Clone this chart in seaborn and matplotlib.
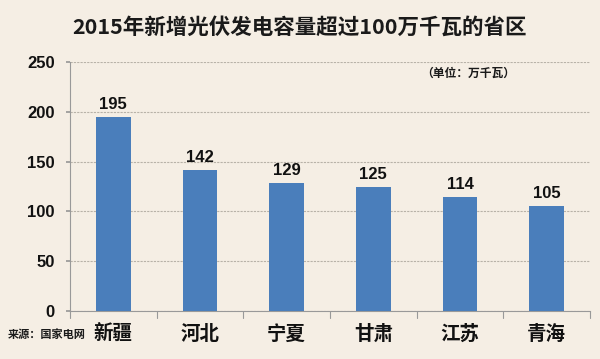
import pandas as pd
import seaborn as sns
import matplotlib.pyplot as plt

# Data
provinces = ["新疆", "河北", "宁夏", "甘肃", "江苏", "青海"]
capacity = [195, 142, 129, 125, 114, 105]
y_ticks = [0, 50, 100, 150, 200, 250]

title = "2015年新增光伏发电容量超过100万千瓦的省区"
unit_note = "（单位：万千瓦）"
source_note = "来源：国家电网"

BG = "#f5eee4"
BAR = "#4a7ebb"
CJK = ["Noto Sans CJK SC", "DejaVu Sans"]
NUM = ["Liberation Sans", "DejaVu Sans"]

sns.set_theme(style="white")
plt.rcParams["font.family"] = CJK

df = pd.DataFrame({"province": provinces, "capacity": capacity})

fig = plt.figure(figsize=(6, 3.59), dpi=100, facecolor=BG)
ax = fig.add_axes([0.1167, 0.1337, 0.8666, 0.6936])
ax.set_facecolor(BG)

sns.barplot(data=df, x="province", y="capacity", color=BAR, width=0.4,
            saturation=1, edgecolor="none", ax=ax, zorder=3)

ax.set_ylim(0, 250)
ax.set_xlim(-0.5, len(provinces) - 0.5)
ax.set_yticks(y_ticks)
ax.set_yticklabels([str(t) for t in y_ticks], fontsize=12, fontweight="bold",
                   family=NUM, color="#111111")
ax.yaxis.grid(True, color="#b8b2a8", lw=0.8, linestyle=(0, (2, 1)), zorder=0)
ax.set_xlabel("")
ax.set_ylabel("")

# category labels and boundary ticks
ax.set_xticks(range(len(provinces)))
ax.set_xticklabels(provinces, fontsize=14, fontweight="bold", color="#111111")
ax.tick_params(axis="x", length=0, pad=10)
ax.tick_params(axis="y", length=3, color="#999999", left=True, pad=8)
for b in range(len(provinces) + 1):
    ax.plot([b - 0.5, b - 0.5], [0, -7], color="#999999", lw=0.8,
            clip_on=False, zorder=2)

for side in ["top", "right"]:
    ax.spines[side].set_visible(False)
for side in ["left", "bottom"]:
    ax.spines[side].set_color("#999999")
    ax.spines[side].set_linewidth(0.8)

for i, v in enumerate(capacity):
    ax.text(i, v + 5, str(v), ha="center", va="bottom", fontsize=12,
            fontweight="bold", family=NUM, color="#111111")

fig.text(0.5, 0.925, title, ha="center", va="center", fontsize=15.5,
         fontweight="bold", color="#1a1a1a")
fig.text(0.78, 0.797, unit_note, ha="center", va="center", fontsize=8.5,
         fontweight="bold", color="#1a1a1a")
fig.text(0.013, 0.067, source_note, ha="left", va="center", fontsize=8,
         fontweight="bold", color="#1a1a1a")

fig.savefig("out.png", dpi=100, facecolor=BG)
